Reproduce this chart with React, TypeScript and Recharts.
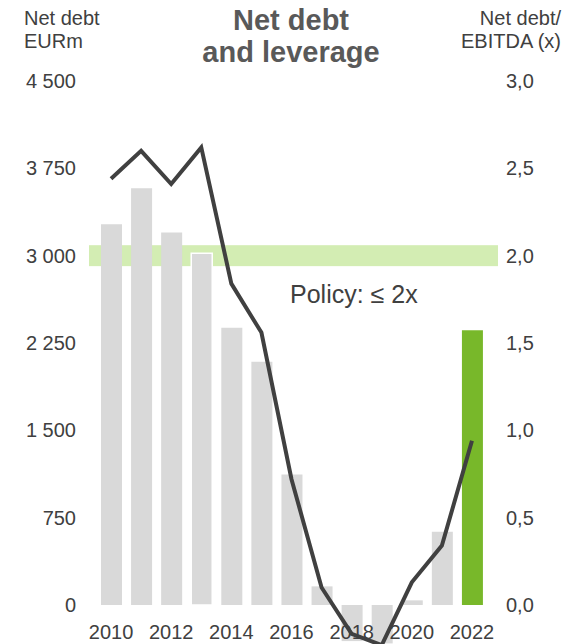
import React from 'react';
import { ComposedChart, Bar, Line, XAxis, YAxis, ReferenceArea, Cell } from 'recharts';

const years = ['2010', '2011', '2012', '2013', '2014', '2015', '2016', '2017', '2018', '2019', '2020', '2021', '2022'];
const netDebt = [3270, 3580, 3200, 3020, 2380, 2090, 1120, 160, -310, -330, 40, 630, 2360];
const leverage = [2.44, 2.6, 2.41, 2.62, 1.84, 1.56, 0.72, 0.1, -0.165, -0.23, 0.13, 0.34, 0.94];
const leftTicks = [0, 750, 1500, 2250, 3000, 3750, 4500];
const rightTicks = [0, 0.5, 1, 1.5, 2, 2.5, 3];
const policyBand = [1.94, 2.06];

const data = years.map((year, i) => ({ year, debt: netDebt[i], lev: leverage[i] }));

const FONT = '"Liberation Sans", Arial, sans-serif';
const TEXT = '#404040';
const GREY_BAR = '#d9d9d9';
const GREEN_BAR = '#78b82a';
const BAND = '#d3edb3';

const fmtDebt = (v: number) =>
  v >= 1000 ? `${Math.floor(v / 1000)} ${String(v % 1000).padStart(3, '0')}` : String(v);
const fmtLev = (v: number) => v.toFixed(1).replace('.', ',');

const YearTick = ({ x, y, payload }: any) => (
  <text x={x} y={y - 19} textAnchor="middle" fill={TEXT} fontSize={20} fontFamily={FONT}>
    {payload.value}
  </text>
);

// band runs a little past the bars on both sides
const BandShape = ({ x, y, width, height }: any) => (
  <rect x={x - 7} y={y} width={width + 18} height={height} fill={BAND} />
);

const PolicyLabel = ({ viewBox }: any) => (
  <text
    x={viewBox.x + 194}
    y={viewBox.y + viewBox.height + 37}
    fill={TEXT}
    fontSize={25}
    fontFamily={FONT}
  >
    Policy: ≤ 2x
  </text>
);

const App = () => {
  return (
    <div style={{ position: 'absolute', left: 0, top: 0, width: 580, height: 644, overflow: 'hidden', fontFamily: FONT, background: '#fff' }}>
      {/* headers */}
      <div style={{ position: 'absolute', left: 24, top: 7, fontSize: 20, lineHeight: '23px', color: TEXT }}>
        Net debt<br />EURm
      </div>
      <div style={{ position: 'absolute', right: 19, top: 7, fontSize: 20, lineHeight: '23px', color: TEXT, textAlign: 'right' }}>
        Net debt/<br />EBITDA (x)
      </div>
      <div style={{ position: 'absolute', left: 191, width: 200, top: 4, fontSize: 29, lineHeight: '32px', fontWeight: 'bold', color: '#595959', textAlign: 'center' }}>
        Net debt<br />and leverage
      </div>

      <ComposedChart width={580} height={688} data={data} margin={{ top: 81, right: 0, bottom: 0, left: 0 }}>
        <XAxis
          dataKey="year"
          height={30}
          padding={{ left: 7, right: 11 }}
          interval={1}
          axisLine={false}
          tickLine={false}
          tickSize={0}
          tickMargin={0}
          tick={<YearTick />}
        />
        <YAxis
          yAxisId="left"
          width={89}
          domain={[-455.2, 4500]}
          ticks={leftTicks}
          tickFormatter={fmtDebt}
          axisLine={false}
          tickLine={false}
          tickSize={0}
          tickMargin={13}
          tick={{ fill: TEXT, fontSize: 20, fontFamily: FONT }}
        />
        <YAxis
          yAxisId="right"
          orientation="right"
          width={82}
          domain={[-0.3034, 3]}
          ticks={rightTicks}
          tickFormatter={fmtLev}
          axisLine={false}
          tickLine={false}
          tickSize={0}
          tickMargin={8}
          tick={{ fill: TEXT, fontSize: 20, fontFamily: FONT, textAnchor: 'start' }}
        />
        <ReferenceArea
          yAxisId="right"
          y1={policyBand[0]}
          y2={policyBand[1]}
          fill={BAND}
          fillOpacity={1}
          stroke="none"
          ifOverflow="visible"
          shape={<BandShape />}
          label={<PolicyLabel />}
        />
        <Bar yAxisId="left" dataKey="debt" barSize={21} isAnimationActive={false}>
          {data.map((d, i) => (
            <Cell
              key={d.year}
              fill={i === data.length - 1 ? GREEN_BAR : GREY_BAR}
              stroke={d.year === '2013' ? '#fff' : 'none'}
              strokeWidth={d.year === '2013' ? 1.5 : 0}
            />
          ))}
        </Bar>
        <Line
          yAxisId="right"
          dataKey="lev"
          type="linear"
          stroke="#404040"
          strokeWidth={4}
          dot={false}
          isAnimationActive={false}
        />
      </ComposedChart>
    </div>
  );
};

export default App;
